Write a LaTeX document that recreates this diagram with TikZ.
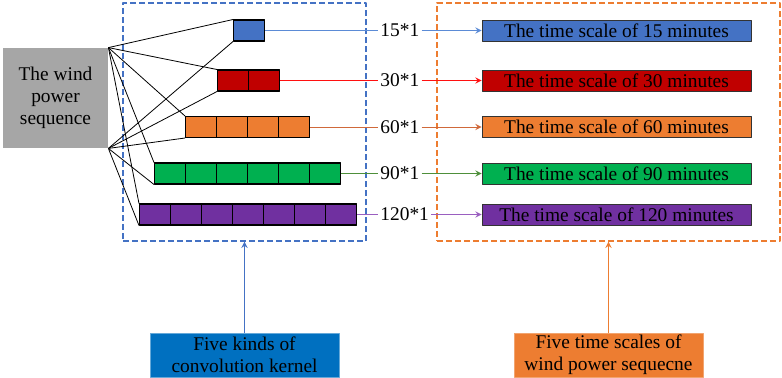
\documentclass[tikz,border=0pt]{standalone}
\usepackage{fontspec}
\setmainfont{Liberation Serif}
\definecolor{kblue}{HTML}{4472C4}
\definecolor{kred}{HTML}{C00000}
\definecolor{korange}{HTML}{ED7D31}
\definecolor{kgreen}{HTML}{00B050}
\definecolor{kpurple}{HTML}{7030A0}
\definecolor{lblue}{HTML}{5B8BD6}
\definecolor{lred}{HTML}{FF1010}
\definecolor{lorange}{HTML}{D0693A}
\definecolor{lgreen}{HTML}{4E8F3A}
\definecolor{lpurple}{HTML}{9A5FC0}
\definecolor{bblue}{HTML}{0070C0}
\begin{document}
\begin{tikzpicture}[x=0.5pt, y=-0.5pt, font=\fontsize{9.7}{11}\selectfont, line join=round, >=stealth,
	windbox/.style={fill=black!35, minimum width=52.5pt, minimum height=50pt, align=center, inner sep=0pt},
	kern/.style={draw=black, line width=0.5pt, minimum height=10.5pt, inner sep=0pt, anchor=west},
	lab/.style={anchor=west, inner sep=1pt},
	tbox/.style={draw=black!80, line width=0.4pt, minimum width=134.5pt, minimum height=10.5pt, inner sep=0pt},
	dbox/.style={line width=0.7pt, dash pattern=on 3pt off 1.5pt, inner sep=0pt},
	bbox/.style={line width=0.4pt, minimum width=94.5pt, minimum height=22pt, align=center, inner sep=0pt}]
	\def\cell{15.5pt} % width of one kernel cell
	\useasboundingbox (0,0) rectangle (782,377);
	% dashed groups
	\node[dbox, draw=kblue, minimum width=121.5pt, minimum height=119pt] (kerbox) at (244.5,122) {};
	\node[dbox, draw=korange, minimum width=171.5pt, minimum height=119pt] (scbox) at (608.5,122) {};
	% input sequence
	\node[windbox] (wind) at (55.5,98) {The wind\\power\\sequence};
	% kernels and time scales
	\foreach \t/\n/\xk/\y/\c/\lc in {15/1/233/30.5/kblue/lblue, 30/2/217/80.5/kred/lred,
		60/4/185/127/korange/lorange, 90/6/154/173.5/kgreen/lgreen, 120/7/139/214.5/kpurple/lpurple}{
		\node[kern, fill=\c, minimum width=\n*\cell] (k\t) at (\xk,\y) {};
		\foreach \i in {1,...,\n}
			\draw[line width=0.5pt] ([xshift=(\i-1)*\cell]k\t.north west) rectangle +(\cell,-10.5pt);
		\draw[line width=0.4pt] (wind.north east) -- (k\t.north west) (wind.south east) -- (k\t.south west);
		\node[lab] (l\t) at (378,\y) {\t*1};
		\node[tbox, fill=\c] (t\t) at (616.5,\y) {The time scale of \t\ minutes};
		\draw[\lc] (k\t.east) -- (l\t.west);
		\draw[->, \lc] (l\t.east) -- (t\t.west);
	}
	% captions
	\node[bbox, fill=bblue, draw=bblue!60] (kcap) at (244.5,355) {Five kinds of\\convolution kernel};
	\node[bbox, fill=korange, draw=korange!70] (scap) at (608.5,355) {Five time scales of\\wind power sequecne};
	\draw[->, kblue] (kcap.north) -- (kerbox.south);
	\draw[->, korange] (scap.north) -- (scbox.south);
\end{tikzpicture}
\end{document}
